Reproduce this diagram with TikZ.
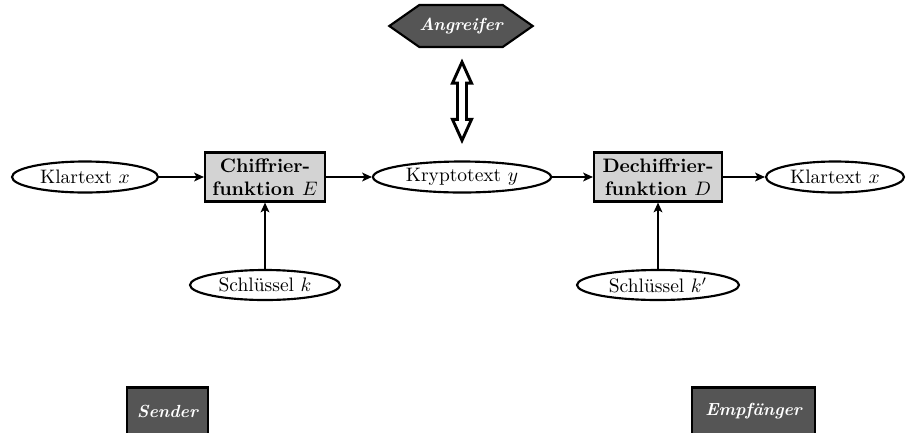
\documentclass[tikz,border=0pt]{standalone}
\usetikzlibrary{shapes.geometric,shapes.symbols,arrows.meta,calc}
\newcommand\pxu{0.513pt}
\definecolor{boxgray}{RGB}{211,211,211}
\definecolor{darkgray}{RGB}{85,85,85}
\tikzset{
  ell/.style={ellipse, draw, line width=1.1pt, inner sep=0pt, fill=white},
  fbox/.style={rectangle, draw, line width=1.1pt, fill=boxgray, align=center, font=\bfseries, inner sep=0pt},
  party/.style={rectangle, draw, line width=1.1pt, fill=darkgray, text=white, font=\small\bfseries\itshape, inner sep=0pt},
  conn/.style={line width=0.8pt, -{Stealth[length=5pt,width=4.5pt,inset=1.2pt]}},
}
\begin{document}
\begin{tikzpicture}[x=0.513pt, y=-0.513pt]
\useasboundingbox (0,0) rectangle (906,432);
% main row
\node[ell, minimum width=146*\pxu, minimum height=31*\pxu] (kl1) at (85,177) {Klartext $x$};
\node[fbox, minimum width=120*\pxu, minimum height=49*\pxu] (enc) at (265,177) {Chiffrier-\\funktion $E$};
\node[ell, minimum width=178*\pxu, minimum height=31*\pxu] (kt) at (462,177) {Kryptotext $y$};
\node[fbox, minimum width=128*\pxu, minimum height=49*\pxu] (dec) at (658,177) {Dechiffrier-\\funktion $D$};
\node[ell, minimum width=138*\pxu, minimum height=31*\pxu] (kl2) at (835,177) {Klartext $x$};
% keys
\node[ell, minimum width=150*\pxu, minimum height=30*\pxu] (k1) at (265,285) {Schl\"ussel $k$};
\node[ell, minimum width=162*\pxu, minimum height=30*\pxu] (k2) at (658,285) {Schl\"ussel $k'$};
% attacker
\node[party, signal, signal to=west and east, signal pointer angle=70,
      minimum width=122*\pxu, minimum height=42*\pxu] (ang) at (461,26) {Angreifer};
% parties
\node[party, minimum width=81*\pxu, minimum height=48*\pxu] (snd) at (167.5,411.5) {Sender};
\node[party, minimum width=123*\pxu, minimum height=48*\pxu] (emp) at (753.5,411.5) {Empf\"anger};
% connectors
\draw[conn] (kl1) -- (enc);
\draw[conn] (enc) -- (kt);
\draw[conn] (kt) -- (dec);
\draw[conn] (dec) -- (kl2);
\draw[conn] (k1) -- (enc);
\draw[conn] (k2) -- (dec);
% double arrow between attacker and ciphertext
\coordinate (dt) at ($(ang.south)+(1,14)$);
\coordinate (db) at ($(kt.north)+(0,-20)$);
\draw[line width=1.5pt, fill=white, line join=miter]
  (dt) -- ++(9.5,21) -- ++(-5,0) -- ($(db)+(4.5,-21)$) -- ++(5,0) -- (db)
  -- ++(-9.5,-21) -- ++(5,0) -- ($(dt)+(-4.5,21)$) -- ++(-5,0) -- cycle;
\end{tikzpicture}
\end{document}
